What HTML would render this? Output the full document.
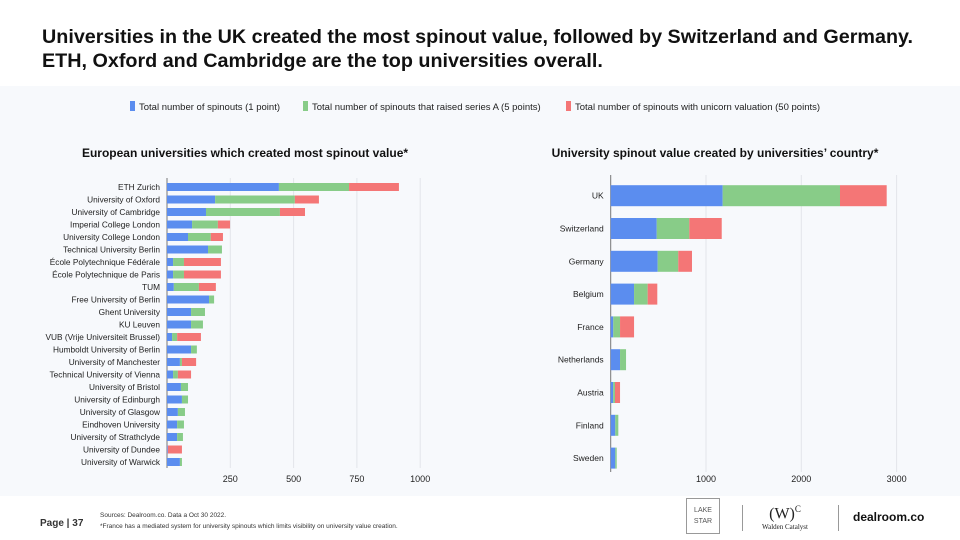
<!DOCTYPE html>
<html><head><meta charset="utf-8"><style>
body{margin:0;width:960px;height:540px;overflow:hidden;background:#fff;font-family:"Liberation Sans",sans-serif;position:relative}
#title{position:absolute;left:42px;top:25px;font-size:19.75px;font-weight:bold;color:#111;line-height:24px;letter-spacing:0}
#panel{position:absolute;left:0;top:86px;width:960px;height:410px;background:#f7f9fc}
svg{position:absolute;left:0;top:0}
</style></head><body>
<div id="title">Universities in the UK created the most spinout value, followed by Switzerland and Germany.<br>ETH, Oxford and Cambridge are the top universities overall.</div>
<div id="panel"></div>
<svg id="svg" width="960" height="540" font-family="Liberation Sans, sans-serif"></svg>
<script>
const uniNames=["ETH Zurich","University of Oxford","University of Cambridge","Imperial College London","University College London","Technical University Berlin","École Polytechnique Fédérale","École Polytechnique de Paris","TUM","Free University of Berlin","Ghent University","KU Leuven","VUB (Vrije Universiteit Brussel)","Humboldt University of Berlin","University of Manchester","Technical University of Vienna","University of Bristol","University of Edinburgh","University of Glasgow","Eindhoven University","University of Strathclyde","University of Dundee","University of Warwick"];
const uniBlue=[442,190,154,99,83,162,24,24,27,166,95,95,20,95,51,24,55,59,43,40,40,3,51];
const uniGreen=[277,315,292,102,90,55,43,43,99,20,55,47,20,23,8,19,28,24,28,27,23,0,8];
const uniRed=[197,95,99,48,48,0,146,146,67,0,0,0,94,0,56,52,0,0,0,0,0,56,0];
const uniTicks=[250,500,750,1000];
const ctyNames=["UK","Switzerland","Germany","Belgium","France","Netherlands","Austria","Finland","Sweden"];
const ctyBlue=[1175,483,493,245,27,98,26,48,48];
const ctyGreen=[1231,342,216,143,71,63,19,32,15];
const ctyRed=[490,340,144,101,147,0,53,0,0];
const ctyTicks=[1000,2000,3000];
const C=["#5b8def","#88cc88","#f47676"];
const NS="http://www.w3.org/2000/svg";
const svg=document.getElementById('svg');
function mk(t,a,txt){const e=document.createElementNS(NS,t);for(const k in a)e.setAttribute(k,a[k]);if(txt!=null)e.textContent=txt;svg.appendChild(e);return e;}
const leg=[["Total number of spinouts (1 point)",130],["Total number of spinouts that raised series A (5 points)",303],["Total number of spinouts with unicorn valuation (50 points)",566]];
leg.forEach((l,i)=>{
 let r=mk('rect',{x:l[1],y:101,width:5,height:10,fill:C[i]});
 
 
 let t=mk('text',{x:l[1]+9,y:110,'font-size':9.5,fill:'#222'},l[0]);
 
 
});
function chart(o){
 const sx=v=>o.x0+v*o.k;
 let h=mk('text',{x:o.tx,y:157,'font-size':12,'font-weight':'bold','text-anchor':'middle',fill:'#111'},o.title);
 
 
 o.ticks.forEach(t=>{
  let g=mk('line',{x1:sx(t),x2:sx(t),y1:o.top,y2:o.bot,stroke:'#e3e5ea','stroke-width':1});
  
  
  let l=mk('text',{x:sx(t),y:482,'font-size':9,'text-anchor':'middle',fill:'#222'},t);
  
  
 });
 let ax=mk('line',{x1:o.x0,x2:o.x0,y1:o.top,y2:o.bot,stroke:'#777','stroke-width':1});
 
 
 o.names.forEach((n,i)=>{
  const cy=o.y0+i*o.p;
  let lb=mk('text',{x:o.x0-7,y:cy+3,'font-size':o.fs,'text-anchor':'end',fill:'#222'},n);
  
  
  let acc=0;
  [o.b,o.g,o.r].forEach((s,j)=>{
   const v=s[i]; if(v<=0)return;
   let r=mk('rect',{x:sx(acc),y:cy-o.bh/2,width:v*o.k,height:o.bh,fill:C[j]});
   
   
   acc+=v;
  });
 });
}
chart({id:'universities',title:'European universities which created most spinout value*',tx:245,x0:167,k:0.2532,y0:187,p:12.5,bh:8,top:178,bot:468,fs:8.3,names:uniNames,b:uniBlue,g:uniGreen,r:uniRed,ticks:uniTicks});
chart({id:'countries',title:'University spinout value created by universities\u2019 country*',tx:715,x0:610.7,k:0.0953,y0:195.7,p:32.8,bh:21,top:175,bot:472,fs:8.5,names:ctyNames,b:ctyBlue,g:ctyGreen,r:ctyRed,ticks:ctyTicks});
</script>
<div style="position:absolute;left:40px;top:518px;font-size:10px;font-weight:bold;color:#333">Page | 37</div>
<div style="position:absolute;left:100px;top:510px;font-size:6.5px;color:#333;line-height:11px">Sources: Dealroom.co. Data a Oct 30 2022.<br>*France has a mediated system for university spinouts which limits visibility on university value creation.</div>
<div style="position:absolute;left:686px;top:498px;width:34px;height:36px;border:1px solid #999;font-size:7px;color:#555;text-align:center;line-height:11px;padding-top:6px;box-sizing:border-box">LAKE<br>STAR</div>
<div style="position:absolute;left:742px;top:505px;width:1px;height:26px;background:#999"></div>
<div style="position:absolute;left:760px;top:500px;width:50px;text-align:center;font-family:'Liberation Serif',serif;color:#222"><div style="font-size:16px;line-height:18px">(W)<sup style="font-size:9px">C</sup></div><div style="font-size:7px">Walden Catalyst</div></div>
<div style="position:absolute;left:838px;top:505px;width:1px;height:26px;background:#999"></div>
<div style="position:absolute;left:853px;top:510px;font-size:12px;font-weight:bold;color:#111">dealroom.co</div>
</body></html>
